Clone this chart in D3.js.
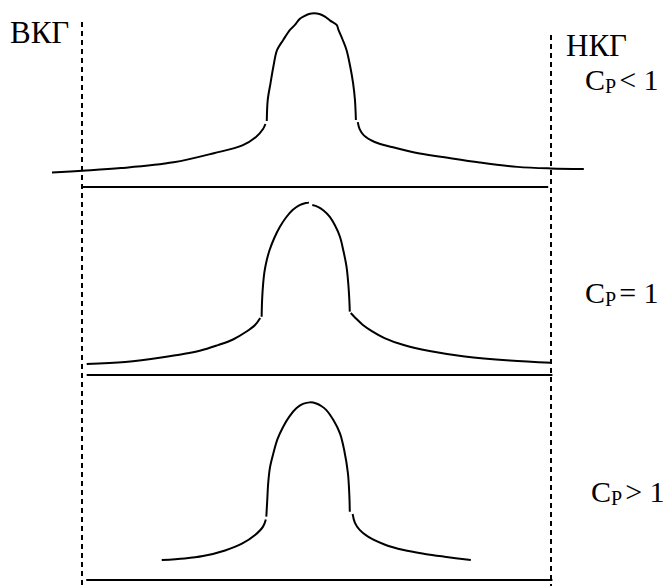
<!DOCTYPE html>
<html>
<head>
<meta charset="utf-8">
<script src="https://cdn.jsdelivr.net/npm/d3@7"></script>
<style>
  html, body { margin: 0; padding: 0; background: #fff; }
  svg { display: block; }
</style>
</head>
<body>
<svg id="chart" width="672" height="586"></svg>
<script>
// Control limits on the process axis (ВКГ at 0, НКГ at 100)
const limitLabels = ["ВКГ", "НКГ"];
const limitValues = [0, 100];

// Capability index cases, top to bottom
const cpSigns = ["<", "=", ">"];

// Distribution outlines: [process value, relative frequency]
// Cp < 1 — wide spread, tails run past both limits
const lowTailLeft = [[-6.4, 8.3], [0.1, 9.3], [8.3, 10.8], [19.5, 14.1], [28.1, 19.3], [34.2, 23.8], [37.1, 28.6], [38.6, 33.1], [39.1, 36.0]];
const lowBell = [[39.4, 37.7], [39.6, 49.7], [40.2, 59.4], [40.8, 68.7], [41.6, 78.3], [42.9, 84.0], [44.3, 89.7], [45.4, 92.6], [46.4, 96.0], [47.4, 97.7], [48.4, 98.9], [49.5, 99.3], [50.6, 98.9], [51.8, 97.4], [52.9, 95.1], [54.3, 92.6], [54.7, 89.7], [55.6, 84.0], [56.4, 78.3], [57.2, 68.7], [57.8, 59.3], [58.2, 49.7], [58.4, 38.3]];
const lowTailRight = [[58.8, 37.1], [59.2, 33.1], [60.1, 29.5], [62.4, 25.7], [66.0, 22.9], [70.9, 19.7], [77.3, 17.0], [84.8, 14.0], [92.8, 11.5], [99.9, 10.6], [107.0, 10.3]];

// Cp = 1 — tails end right at the limits
const oneTailLeft = [[1.0, 6.3], [9.2, 7.4], [16.9, 10.0], [25.1, 13.9], [29.0, 17.1], [32.2, 20.3], [35.0, 24.7], [36.9, 28.6], [38.0, 32.6]];
const oneBellLeft = [[38.3, 33.3], [38.4, 42.9], [38.6, 51.4], [38.9, 58.9], [39.4, 65.7], [40.0, 71.4], [41.0, 78.3], [42.2, 84.7], [43.5, 90.0], [44.9, 94.3], [46.4, 97.1], [47.7, 98.3], [48.4, 98.5]];
const oneBellRight = [[49.1, 97.1], [50.3, 96.1], [51.5, 94.0], [52.8, 90.5], [53.9, 85.7], [55.0, 79.0], [55.7, 71.4], [56.4, 61.9], [56.8, 51.4], [57.0, 42.9], [57.1, 36.2]];
const oneTailRight = [[57.3, 35.4], [58.3, 32.6], [59.9, 28.6], [61.8, 25.1], [64.5, 21.1], [68.6, 17.1], [74.1, 13.7], [81.6, 10.6], [91.2, 8.3], [100.1, 7.0]];

// Cp > 1 — tails stay well inside the limits
const highTailLeft = [[17.0, 11.4], [21.9, 12.3], [25.8, 13.7], [30.5, 16.9], [34.2, 20.9], [36.9, 25.7], [38.6, 30.5], [39.2, 34.6]];
const highBell = [[39.3, 36.2], [39.5, 45.7], [39.7, 55.3], [40.1, 64.6], [40.8, 72.4], [41.7, 80.6], [42.9, 87.6], [44.2, 93.4], [45.7, 98.1], [47.1, 100.6], [48.6, 101.5], [50.1, 100.7], [51.1, 99.3], [52.1, 97.1], [53.6, 91.4], [55.0, 83.8], [55.9, 74.3], [56.7, 61.0], [57.0, 48.6], [57.1, 39.0]];
const highTailRight = [[57.7, 37.7], [58.2, 32.6], [59.2, 28.6], [60.9, 24.9], [64.5, 20.3], [68.6, 17.1], [73.1, 14.9], [77.3, 13.3], [82.9, 11.4]];

// Extent of each panel's base axis on the process scale
const baseSpans = [[0.2, 99.4], [1.0, 100.3], [0.9, 100.3]];

const panels = [
  { sign: cpSigns[0], pieces: [lowTailLeft, lowBell, lowTailRight], span: baseSpans[0] },
  { sign: cpSigns[1], pieces: [oneTailLeft, oneBellLeft, oneBellRight, oneTailRight], span: baseSpans[1] },
  { sign: cpSigns[2], pieces: [highTailLeft, highBell, highTailRight], span: baseSpans[2] }
];

// Layout
const W = 672, H = 586;
const panelBase = [187, 375, 580];
const panelHeight = 175;
const labelPos = [[585, 90], [585, 303], [591, 502]];
const serif = "'Liberation Serif', 'Times New Roman', Times, serif";

const svg = d3.select("#chart");
svg.append("rect").attr("width", W).attr("height", H).attr("fill", "#fff");

const x = d3.scaleLinear().domain([0, 100]).range([82, 551]);

// Dashed control-limit lines
const limitTop = [22, 35];
svg.selectAll("line.limit")
  .data(limitValues)
  .join("line")
  .attr("class", "limit")
  .attr("x1", d => x(d)).attr("x2", d => x(d))
  .attr("y1", (d, i) => limitTop[i]).attr("y2", H)
  .attr("stroke", "#000")
  .attr("stroke-width", 2)
  .attr("stroke-dasharray", "5,4");

// Limit labels
svg.append("text")
  .attr("x", 10).attr("y", 43)
  .attr("font-family", serif).attr("font-size", 31)
  .text(limitLabels[0]);
svg.append("text")
  .attr("x", 566).attr("y", 56)
  .attr("font-family", serif).attr("font-size", 31)
  .text(limitLabels[1]);

panels.forEach((p, i) => {
  const y = d3.scaleLinear().domain([0, 100]).range([panelBase[i], panelBase[i] - panelHeight]);
  const line = d3.line()
    .x(d => x(d[0]))
    .y(d => y(d[1]))
    .curve(d3.curveCatmullRom.alpha(0.5));

  const g = svg.append("g");

  // base axis
  g.append("line")
    .attr("x1", x(p.span[0])).attr("x2", x(p.span[1]))
    .attr("y1", y(0)).attr("y2", y(0))
    .attr("stroke", "#000").attr("stroke-width", 2.2);

  // distribution outline
  g.selectAll("path")
    .data(p.pieces)
    .join("path")
    .attr("d", line)
    .attr("fill", "none")
    .attr("stroke", "#000")
    .attr("stroke-width", 2)
    .attr("stroke-linejoin", "round");

  // Cp label
  const t = g.append("text")
    .attr("x", labelPos[i][0]).attr("y", labelPos[i][1])
    .attr("font-family", serif).attr("fill", "#000");
  t.append("tspan").attr("font-size", 30).text("C");
  t.append("tspan").attr("font-size", 20).attr("dy", 3).text("P");
  t.append("tspan").attr("font-size", 30).attr("dy", -3).attr("dx", 3).text(p.sign + " 1");
});
</script>
</body>
</html>
